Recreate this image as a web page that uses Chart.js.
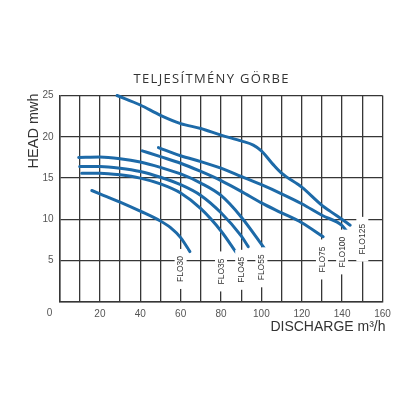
<!DOCTYPE html>
<html><head><meta charset="utf-8">
<script src="https://cdn.jsdelivr.net/npm/chart.js@4.4.1/dist/chart.umd.min.js"></script>
<style>html,body{margin:0;padding:0;background:#fff;}#wrap{width:420px;height:420px;}</style>
</head><body><div id="wrap"><canvas id="c" width="420" height="420"></canvas></div>
<script>
// ---- text ----
const chartTitle = 'TELJESÍTMÉNY GÖRBE';
const xAxisTitle = 'DISCHARGE m³/h';
const yAxisTitle = 'HEAD mwh';

// ---- axis ranges / ticks ----
const xMin = 0, xMax = 160, xGridStep = 10, xLabelStep = 20;
const yMin = 0, yMax = 25, yStep = 5;

// ---- series (discharge m3/h, head m) ----
const flo30X  = [16, 20, 30, 40, 50, 55, 60, 64.6];
const flo30Y  = [13.5, 13.1, 12.1, 11.0, 9.8, 9.0, 7.8, 6.1];
const flo35X  = [11, 20, 30, 40, 50, 60, 70, 80, 87.5];
const flo35Y  = [15.6, 15.6, 15.4, 15.0, 14.3, 13.2, 11.3, 8.6, 6.0];
const flo45X  = [10, 20, 30, 40, 50, 60, 70, 80, 90, 93.5];
const flo45Y  = [16.4, 16.4, 16.2, 15.8, 15.1, 14.2, 12.9, 10.8, 8.0, 6.7];
const flo55X  = [9.5, 20, 30, 40, 50, 60, 70, 80, 90, 101.5];
const flo55Y  = [17.5, 17.55, 17.35, 16.95, 16.3, 15.5, 14.4, 12.9, 10.3, 6.5];
const flo75X  = [41, 50, 60, 70, 80, 90, 100, 110, 120, 130.6];
const flo75Y  = [18.3, 17.6, 16.8, 15.8, 14.7, 13.4, 12.0, 10.8, 9.6, 7.9];
const flo100X = [49, 60, 70, 80, 90, 100, 110, 120, 130, 140, 142.2];
const flo100Y = [18.7, 17.7, 17.0, 16.2, 15.2, 14.2, 13.1, 11.9, 10.5, 9.25, 8.6];
const flo125X = [28.5, 40, 50, 60, 70, 80, 90, 96, 100, 106, 110, 120, 130, 134, 140, 144];
const flo125Y = [25, 23.85, 22.6, 21.6, 21.0, 20.2, 19.5, 19.0, 18.3, 16.6, 15.6, 13.9, 11.7, 11.0, 10.0, 9.3];

// ---- curve labels (model name, anchored at discharge / head values) ----
const labelNames = ['FLO30', 'FLO35', 'FLO45', 'FLO55', 'FLO75', 'FLO100', 'FLO125'];
const labelX     = [60, 80, 90, 100, 130, 140, 150];
const labelY     = [4.0, 3.7, 3.9, 4.2, 5.15, 6.05, 7.6];

const seriesX = [flo30X, flo35X, flo45X, flo55X, flo75X, flo100X, flo125X];
const seriesY = [flo30Y, flo35Y, flo45Y, flo55Y, flo75Y, flo100Y, flo125Y];

const CURVE = '#1d6aa8';
const GRID = '#363636';
const TICK = '#555';
const TEXT = '#333';

const datasets = seriesX.map((xs, i) => ({
  label: labelNames[i],
  data: xs.map((v, j) => ({x: v, y: seriesY[i][j]})),
  borderColor: CURVE,
  borderWidth: 3,
  borderCapStyle: 'round',
  borderJoinStyle: 'round',
  pointRadius: 0,
  fill: false,
  cubicInterpolationMode: 'monotone',
  clip: 2
}));

const textPlugin = {
  id: 'texts',
  afterDraw(chart) {
    const {ctx, chartArea: a, scales: {x, y}} = chart;
    ctx.save();
    // curve labels with white boxes over the grid
    ctx.font = '8.5px "Liberation Sans", Arial, sans-serif';
    labelNames.forEach((name, i) => {
      const px = x.getPixelForValue(labelX[i]);
      const py = y.getPixelForValue(labelY[i]);
      const w = ctx.measureText(name).width;
      ctx.fillStyle = '#fff';
      ctx.fillRect(px - 6, py - w / 2 - 7, 12, w + 14);
      ctx.save();
      ctx.translate(px, py);
      ctx.rotate(-Math.PI / 2);
      ctx.fillStyle = TEXT;
      ctx.textAlign = 'center';
      ctx.textBaseline = 'middle';
      ctx.fillText(name, 0, 0.5);
      ctx.restore();
    });
    // origin "0"
    ctx.font = '10px "Liberation Sans", Arial, sans-serif';
    ctx.fillStyle = TICK;
    ctx.textAlign = 'center';
    ctx.textBaseline = 'middle';
    ctx.fillText('0', a.left - 10, a.bottom + 11);
    // title
    ctx.font = '500 13px "Open Sans", sans-serif';
    ctx.fillStyle = TEXT;
    const tw = ctx.measureText(chartTitle).width;
    const sp = Math.max(0, (155 - tw) / (chartTitle.length - 1));
    ctx.letterSpacing = sp + 'px';
    ctx.textAlign = 'center';
    ctx.textBaseline = 'alphabetic';
    ctx.fillText(chartTitle, (a.left + a.right) / 2 + sp / 2 - 10, a.top - 12.5);
    ctx.letterSpacing = '0px';
    // x axis title
    ctx.font = '14px "Liberation Sans", Arial, sans-serif';
    ctx.fillStyle = TEXT;
    ctx.textAlign = 'right';
    ctx.textBaseline = 'alphabetic';
    ctx.fillText(xAxisTitle, a.right + 3, a.bottom + 29);
    // y axis title
    ctx.font = '14.5px "Liberation Sans", Arial, sans-serif';
    ctx.save();
    ctx.translate(a.left - 21.5, a.top - 2);
    ctx.rotate(-Math.PI / 2);
    ctx.textAlign = 'right';
    ctx.textBaseline = 'alphabetic';
    ctx.fillText(yAxisTitle, 0, 0);
    ctx.restore();
    ctx.restore();
  }
};

new Chart(document.getElementById('c'), {
  type: 'line',
  data: {datasets},
  options: {
    responsive: false,
    animation: false,
    devicePixelRatio: 1,
    layout: {padding: {left: 0, right: 37.5, top: 95.5, bottom: 88}},
    plugins: {legend: {display: false}, tooltip: {enabled: false}, title: {display: false}},
    scales: {
      x: {
        type: 'linear', min: xMin, max: xMax,
        grid: {color: GRID, lineWidth: 1.3, drawTicks: false},
        border: {color: GRID, width: 1.5},
        ticks: {
          stepSize: xGridStep, padding: 6, color: TICK, maxRotation: 0, autoSkip: false,
          font: {family: '"Liberation Sans", Arial, sans-serif', size: 10},
          callback: v => (v % xLabelStep === 0 && v !== 0) ? String(v) : ''
        },
        afterFit: s => { s.height = 30; }
      },
      y: {
        type: 'linear', min: yMin, max: yMax,
        grid: {color: GRID, lineWidth: 1.3, drawTicks: false},
        border: {color: GRID, width: 1.5},
        ticks: {
          stepSize: yStep, padding: 6, color: TICK,
          font: {family: '"Liberation Sans", Arial, sans-serif', size: 10},
          callback: v => v === 0 ? '' : String(v)
        },
        afterFit: s => { s.width = 59.5; }
      }
    }
  },
  plugins: [textPlugin]
});
</script>
</body></html>
